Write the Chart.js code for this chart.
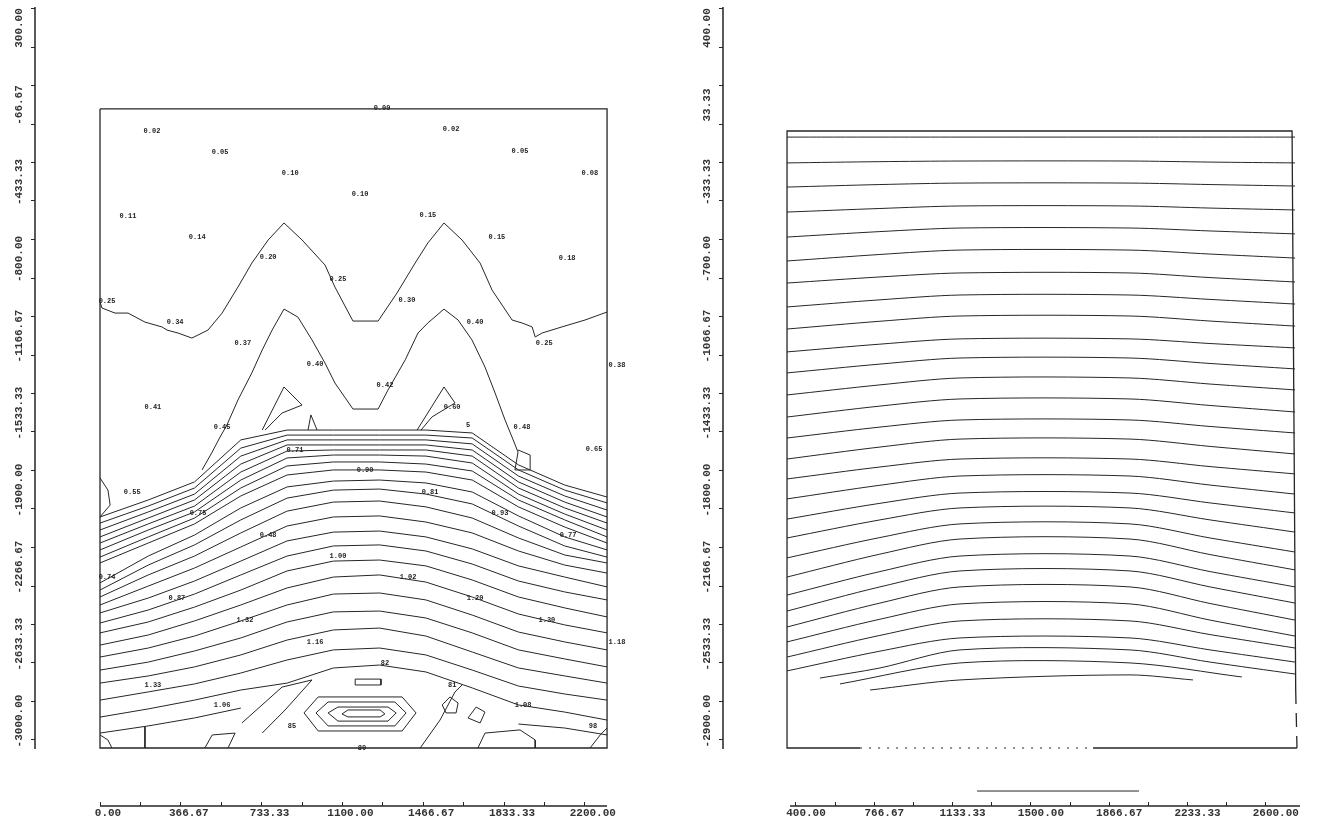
<!DOCTYPE html>
<html>
<head>
<meta charset="utf-8">
<script src="https://cdn.jsdelivr.net/npm/chart.js@4.4.1/dist/chart.umd.min.js"></script>
<style>
  body { margin: 0; background: #fff; }
  #wrap { position: relative; width: 1334px; height: 827px; overflow: hidden; }
  canvas { position: absolute; top: 0; }
  #cL { left: 0; }
  #cR { left: 667px; }
</style>
</head>
<body>
<div id="wrap">
  <canvas id="cL" width="667" height="827"></canvas>
  <canvas id="cR" width="667" height="827"></canvas>
</div>
<script>
// ---- axis labels ----
const xValsL = [0, 366.67, 733.33, 1100, 1466.67, 1833.33, 2200];
const xTextL = ['0.00', '366.67', '733.33', '1100.00', '1466.67', '1833.33', '2200.00'];
const yValsL = [300, -66.67, -433.33, -800, -1166.67, -1533.33, -1900, -2266.67, -2633.33, -3000];
const yTextL = ['300.00', '-66.67', '-433.33', '-800.00', '-1166.67', '-1533.33', '-1900.00', '-2266.67', '-2633.33', '-3000.00'];
const xValsR = [400, 766.67, 1133.33, 1500, 1866.67, 2233.33, 2600];
const xTextR = ['400.00', '766.67', '1133.33', '1500.00', '1866.67', '2233.33', '2600.00'];
const yValsR = [400, 33.33, -333.33, -700, -1066.67, -1433.33, -1800, -2166.67, -2533.33, -2900];
const yTextR = ['400.00', '33.33', '-333.33', '-700.00', '-1066.67', '-1433.33', '-1800.00', '-2166.67', '-2533.33', '-2900.00'];

// ---- left section: contour lines of the lower arch, depth read at these x ----
const leftCols = [0, 219, 429, 639, 849, 1059, 1269, 1479, 1689, 1899, 2109, 2301];
const leftArcs = [
  [-1938, -1857, -1771, -1571, -1524, -1524, -1524, -1524, -1538, -1690, -1786, -1843],
  [-1967, -1886, -1800, -1610, -1548, -1548, -1548, -1548, -1562, -1714, -1810, -1871],
  [-2000, -1914, -1829, -1648, -1571, -1571, -1571, -1571, -1590, -1743, -1838, -1905],
  [-2033, -1943, -1857, -1686, -1595, -1595, -1595, -1595, -1619, -1771, -1867, -1938],
  [-2062, -1971, -1886, -1724, -1624, -1619, -1619, -1619, -1648, -1800, -1895, -1967],
  [-2095, -2000, -1914, -1762, -1657, -1643, -1643, -1648, -1681, -1829, -1924, -2000],
  [-2129, -2033, -1943, -1800, -1695, -1676, -1676, -1686, -1719, -1857, -1952, -2033],
  [-2157, -2062, -1971, -1838, -1738, -1714, -1714, -1724, -1762, -1890, -1986, -2062],
  [-2252, -2124, -2024, -1895, -1795, -1767, -1762, -1776, -1819, -1933, -2033, -2095],
  [-2286, -2167, -2071, -1952, -1848, -1810, -1805, -1829, -1876, -1981, -2076, -2129],
  [-2319, -2214, -2124, -2014, -1910, -1867, -1862, -1890, -1943, -2038, -2119, -2157],
  [-2357, -2267, -2181, -2081, -1981, -1938, -1933, -1962, -2014, -2100, -2167, -2205],
  [-2395, -2324, -2243, -2148, -2052, -2010, -2005, -2033, -2090, -2171, -2224, -2271],
  [-2443, -2381, -2305, -2214, -2124, -2076, -2071, -2100, -2162, -2243, -2295, -2333],
  [-2490, -2438, -2367, -2286, -2195, -2148, -2143, -2171, -2238, -2319, -2371, -2414],
  [-2548, -2500, -2433, -2357, -2276, -2224, -2214, -2248, -2319, -2400, -2452, -2490],
  [-2605, -2562, -2505, -2433, -2357, -2305, -2300, -2333, -2405, -2486, -2533, -2571],
  [-2667, -2629, -2576, -2514, -2438, -2390, -2386, -2419, -2490, -2571, -2614, -2652],
  [-2729, -2695, -2652, -2595, -2524, -2476, -2467, -2505, -2581, -2657, -2695, -2729],
  [-2810, -2771, -2733, -2681, -2619, -2571, -2562, -2595, -2667, -2743, -2781, -2810],
  [-2891, -2852, -2810, -2762, -2729, -2657, -2643, -2676, -2752, -2833, -2867, -2905]
];
const tailLX = [0, 219, 429, 639];
const tailLY = [-2967, -2933, -2895, -2848];
const tailRX = [1899, 2109, 2301];
const tailRY = [-2924, -2943, -2976];

// upper M-shaped contours
const mOuterX = [0, 9, 68, 127, 204, 281, 304, 354, 417, 490, 554, 626, 689, 763, 835, 917, 1021, 1066, 1148, 1262, 1348, 1430, 1488, 1561, 1643, 1725, 1779, 1870, 1915, 1961, 1975, 2006, 2096, 2201, 2301];
const mOuterY = [-914, -943, -967, -967, -1010, -1033, -1048, -1062, -1086, -1048, -967, -843, -729, -619, -538, -619, -738, -843, -1005, -1005, -871, -729, -633, -538, -619, -729, -857, -1000, -1014, -1033, -1081, -1062, -1033, -1000, -962];
const mInnerX = [463, 509, 545, 576, 626, 689, 736, 781, 835, 898, 962, 1021, 1066, 1148, 1262, 1307, 1385, 1443, 1488, 1561, 1625, 1688, 1747, 1793, 1838, 1875, 1897, 1883, 1952, 1952, 1897];
const mInnerY = [-1714, -1629, -1557, -1500, -1381, -1252, -1143, -1048, -948, -986, -1095, -1205, -1300, -1424, -1424, -1333, -1190, -1062, -1014, -948, -1000, -1095, -1224, -1348, -1476, -1571, -1629, -1714, -1714, -1643, -1619];
const triLX = [736, 835, 917, 826, 749];
const triLY = [-1524, -1319, -1405, -1443, -1524];
const triRX = [1439, 1561, 1611, 1506, 1457];
const triRY = [-1524, -1319, -1395, -1462, -1524];
const triSX = [944, 957, 985];
const triSY = [-1524, -1452, -1524];
const bumpX = [0, 36, 46, 0];
const bumpY = [-1752, -1810, -1881, -1938];

// closed cells near the bottom
const rectX = [1158, 1275, 1275, 1158, 1158];
const rectY = [-2710, -2710, -2738, -2738, -2710];
const hex1X = [990, 1371, 1434, 1371, 990, 926, 990];
const hex1Y = [-2795, -2795, -2871, -2957, -2957, -2871, -2795];
const hex2X = [1035, 1338, 1389, 1338, 1035, 980, 1035];
const hex2Y = [-2819, -2819, -2871, -2933, -2933, -2871, -2819];
const hex3X = [1080, 1307, 1344, 1307, 1080, 1035, 1080];
const hex3Y = [-2843, -2843, -2871, -2910, -2910, -2871, -2843];
const hex4X = [1125, 1271, 1293, 1271, 1125, 1098, 1125];
const hex4Y = [-2857, -2857, -2876, -2890, -2890, -2876, -2857];
const vLeftX = [644, 826, 962, 840, 736];
const vLeftY = [-2919, -2748, -2714, -2857, -2967];
const loop1X = [1588, 1625, 1616, 1570, 1553, 1588];
const loop1Y = [-2795, -2824, -2871, -2871, -2833, -2795];
const loop2X = [1707, 1747, 1725, 1670, 1707];
const loop2Y = [-2843, -2867, -2919, -2895, -2843];
const diagX = [1453, 1543, 1611, 1643];
const diagY = [-3038, -2905, -2771, -2738];
const footLX = [476, 509, 613, 581];
const footLY = [-3038, -2976, -2967, -3038];
const footRX = [1715, 1747, 1906, 1975, 1975];
const footRY = [-3038, -2967, -2952, -3000, -3038];
const stubX = [204, 204];
const stubY = [-2938, -3038];
const cornerX = [0, 36, 54];
const cornerY = [-2976, -3000, -3038];
const cornerRX = [2224, 2270, 2301];
const cornerRY = [-3038, -2976, -2943];
const boxLX = [0, 2301, 2301, 0, 0];
const boxLY = [5, 5, -3038, -3038, 5];

// contour values printed on the left section
const tagText = ['0.00', '0.02', '0.02', '0.05', '0.05', '0.08', '0.10', '0.10', '0.11', '0.15', '0.14', '0.15', '0.18', '0.20', '0.25', '0.30', '0.25', '0.34', '0.40', '0.25', '0.37', '0.40', '0.42', '0.38', '0.41', '0.60', '0.45', '0.48', '5', '0.65', '0.71', '0.90', '0.81', '0.55', '0.75', '0.93', '0.48', '0.77', '1.00', '0.74', '1.02', '0.87', '1.20', '1.32', '1.30', '1.16', '1.18', '82', '1.33', '81', '1.06', '1.08', '85', '98', '80'];
const tagX = [1280, 236, 1593, 545, 1906, 2223, 863, 1180, 127, 1488, 441, 1801, 2120, 763, 1080, 1393, 32, 341, 1702, 2016, 648, 976, 1293, 2346, 240, 1598, 554, 1915, 1670, 2242, 885, 1203, 1498, 146, 445, 1815, 763, 2124, 1080, 32, 1398, 349, 1702, 658, 2028, 976, 2346, 1293, 240, 1598, 554, 1920, 871, 2237, 1189];
const tagY = [10, -100, -91, -200, -195, -300, -300, -400, -505, -500, -605, -605, -705, -700, -805, -905, -910, -1010, -1010, -1110, -1110, -1210, -1310, -1214, -1414, -1414, -1510, -1510, -1500, -1614, -1619, -1714, -1819, -1819, -1919, -1919, -2024, -2024, -2124, -2224, -2224, -2324, -2324, -2429, -2429, -2533, -2533, -2633, -2738, -2738, -2833, -2833, -2933, -2933, -3038];

// ---- right section: near-horizontal contour lines ----
const rightCols = [358, 793, 1168, 1964, 2339, 2737];
const rightLines = [
  [-29, -29, -29, -29, -29, -29],
  [-152, -146, -143, -143, -148, -152],
  [-267, -255, -248, -248, -255, -262],
  [-386, -369, -357, -357, -367, -376],
  [-505, -479, -462, -462, -476, -490],
  [-619, -588, -567, -567, -586, -605],
  [-724, -695, -676, -676, -698, -719],
  [-838, -804, -781, -781, -802, -824],
  [-943, -906, -881, -881, -905, -929],
  [-1052, -1015, -990, -990, -1012, -1033],
  [-1152, -1110, -1081, -1081, -1107, -1133],
  [-1257, -1209, -1176, -1176, -1205, -1233],
  [-1362, -1310, -1276, -1276, -1307, -1338],
  [-1462, -1410, -1376, -1376, -1407, -1438],
  [-1562, -1505, -1467, -1467, -1502, -1538],
  [-1657, -1600, -1562, -1562, -1598, -1633],
  [-1752, -1687, -1643, -1643, -1686, -1729],
  [-1848, -1773, -1724, -1724, -1771, -1819],
  [-1938, -1852, -1795, -1795, -1852, -1910],
  [-2033, -1936, -1871, -1871, -1938, -2005],
  [-2124, -2015, -1943, -1943, -2017, -2090],
  [-2210, -2098, -2024, -2024, -2098, -2171],
  [-2286, -2171, -2095, -2095, -2171, -2248],
  [-2362, -2248, -2171, -2171, -2250, -2329],
  [-2433, -2325, -2252, -2252, -2329, -2405],
  [-2505, -2402, -2333, -2333, -2398, -2462],
  [-2571, -2477, -2414, -2414, -2471, -2529]
];
const part1X = [512, 793, 1168, 1964, 2339, 2737];
const part1Y = [-2605, -2557, -2471, -2471, -2529, -2586];
const part2X = [606, 1168, 1964, 2488];
const part2Y = [-2633, -2533, -2533, -2600];
const part3X = [747, 1168, 1964, 2259];
const part3Y = [-2662, -2614, -2590, -2614];
const boxRX = [700, 358, 358, 2723, 2740];
const boxRY = [-2938, -2938, 0, 0, -2662];
const boxRBotX = [1791, 2746];
const boxRBotY = [-2938, -2938];
const boxRDotX = [700, 1791];
const boxRDotY = [-2938, -2938];
const boxRDashX = [2740, 2746];
const boxRDashY = [-2662, -2938];
const barX = [1248, 2006];
const barY = [-3143, -3143];

// ---- drawing ----
const INK = '#262626';
const TXT = '#333';
const tickFont = { family: '"Liberation Mono", "DejaVu Sans Mono", monospace', size: 11, weight: 'bold' };

function pts(xs, ys) { return xs.map((x, i) => ({ x, y: ys[i] })); }
function line(xs, ys, extra) {
  return Object.assign({ data: pts(xs, ys), showLine: true, borderColor: INK, borderWidth: 1,
    pointRadius: 0, tension: 0, fill: false }, extra || {});
}
function halfSteps(vals) {
  const out = [];
  vals.forEach((v, i) => { out.push(v); if (i < vals.length - 1) out.push((v + vals[i + 1]) / 2); });
  return out;
}
function labelFor(v, vals, texts) {
  const i = vals.findIndex(t => Math.abs(t - v) < 0.5);
  return i < 0 ? '' : texts[i];
}

function axisX(min, max, vals, texts, offset) {
  return {
    type: 'linear', min, max,
    border: { display: false },
    grid: { drawOnChartArea: false, tickLength: -4, color: INK },
    afterBuildTicks: s => { s.ticks = halfSteps(vals).map(v => ({ value: v })); },
    afterFit: s => { s.height = 21; },
    ticks: { autoSkip: false, minRotation: 0, maxRotation: 0, padding: 5, labelOffset: offset,
      color: TXT, font: tickFont, callback: v => labelFor(v, vals, texts) }
  };
}
function axisY(min, max, vals, texts, width) {
  const top = vals[0] + (vals[0] - vals[1]) / 2;
  return {
    type: 'linear', min, max,
    border: { display: false },
    grid: { drawOnChartArea: false, tickLength: 4, color: INK },
    afterBuildTicks: s => { s.ticks = [top].concat(halfSteps(vals)).map(v => ({ value: v })); },
    afterFit: s => { s.width = width; },
    ticks: { autoSkip: false, minRotation: 90, maxRotation: 90, crossAlign: 'center', padding: -14.5,
      labelOffset: -19, color: TXT, font: tickFont, callback: v => labelFor(v, vals, texts) }
  };
}

function axisLines(xFrom, xTo, yFrom, yTo) {
  return {
    id: 'axisLines',
    afterDraw(chart) {
      const { ctx, chartArea, scales: { x, y } } = chart;
      ctx.save();
      ctx.strokeStyle = INK;
      ctx.lineWidth = 1.5;
      ctx.beginPath();
      ctx.moveTo(chartArea.left, y.getPixelForValue(yFrom));
      ctx.lineTo(chartArea.left, y.getPixelForValue(yTo));
      ctx.moveTo(x.getPixelForValue(xFrom), chartArea.bottom);
      ctx.lineTo(x.getPixelForValue(xTo), chartArea.bottom);
      ctx.stroke();
      ctx.restore();
    }
  };
}

const tagPlugin = {
  id: 'tags',
  afterDatasetsDraw(chart) {
    const { ctx, scales: { x, y } } = chart;
    ctx.save();
    ctx.fillStyle = '#1e1e1e';
    ctx.font = 'bold 7px "Liberation Mono", monospace';
    ctx.textAlign = 'center';
    ctx.textBaseline = 'middle';
    tagText.forEach((t, i) => ctx.fillText(t, x.getPixelForValue(tagX[i]), y.getPixelForValue(tagY[i])));
    ctx.restore();
  }
};

function baseOptions(padRight, scales) {
  return {
    responsive: false, animation: false, devicePixelRatio: 1,
    layout: { padding: { top: 7, left: 0, right: padRight, bottom: 0 } },
    plugins: { legend: { display: false }, tooltip: { enabled: false } },
    scales
  };
}

// left section
const leftSets = [
  line(boxLX, boxLY, { borderWidth: 1.3 }),
  line(mOuterX, mOuterY), line(mInnerX, mInnerY),
  line(triLX, triLY), line(triRX, triRY), line(triSX, triSY), line(bumpX, bumpY),
  line(tailLX, tailLY), line(tailRX, tailRY),
  line(rectX, rectY), line(hex1X, hex1Y), line(hex2X, hex2Y), line(hex3X, hex3Y), line(hex4X, hex4Y),
  line(vLeftX, vLeftY), line(loop1X, loop1Y), line(loop2X, loop2Y), line(diagX, diagY),
  line(footLX, footLY), line(footRX, footRY), line(stubX, stubY),
  line(cornerX, cornerY), line(cornerRX, cornerRY)
].concat(leftArcs.map(d => line(leftCols, d)));

new Chart(document.getElementById('cL'), {
  type: 'scatter',
  data: { datasets: leftSets },
  options: baseOptions(27, {
    x: axisX(-295, 2450.5, xValsL, xTextL, 8),
    y: axisY(-3314.29, 490.48, yValsL, yTextL, 35)
  }),
  plugins: [axisLines(0, 2301, 490, -3043), tagPlugin]
});

// right section
const rightSets = [
  line(boxRX, boxRY, { borderWidth: 1.3 }),
  line(boxRBotX, boxRBotY, { borderWidth: 1.3 }),
  line(boxRDotX, boxRDotY, { borderDash: [2, 7] }),
  line(boxRDashX, boxRDashY, { borderWidth: 1.3, borderDash: [14, 9] }),
  line(barX, barY),
  line(part1X, part1Y, { tension: 0.3 }), line(part2X, part2Y, { tension: 0.3 }), line(part3X, part3Y, { tension: 0.3 })
].concat(rightLines.map(d => line(rightCols, d, { tension: 0.3 })));

new Chart(document.getElementById('cR'), {
  type: 'scatter',
  data: { datasets: rightSets },
  options: baseOptions(4, {
    x: axisX(58.2, 2900.6, xValsR, xTextR, 10),
    y: axisY(-3214.29, 590.48, yValsR, yTextR, 56)
  }),
  plugins: [axisLines(372, 2760, 590, -2943)]
});
</script>
</body>
</html>
